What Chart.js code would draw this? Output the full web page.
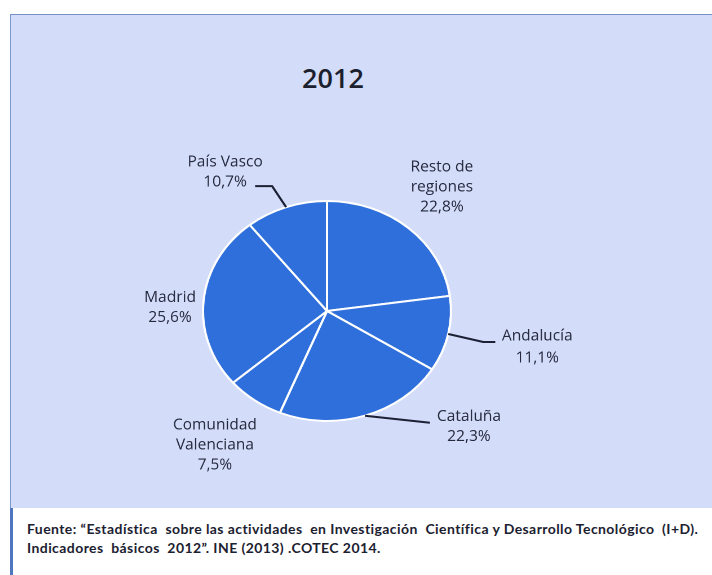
<!DOCTYPE html>
<html>
<head>
<meta charset="utf-8">
<script src="https://cdn.jsdelivr.net/npm/chart.js@4.4.1/dist/chart.umd.min.js"></script>
<style>
  html, body { margin:0; padding:0; background:#ffffff; width:712px; height:575px; overflow:hidden; }
  #box { position:absolute; left:10px; top:14px; width:702px; height:494px; background:#d3dcf8;
         border-top:1.5px solid #7390c8; border-left:1.5px solid #7b98cc; box-sizing:border-box; }
  #lowerBar { position:absolute; left:10px; top:508px; width:3px; height:67px; background:#4f76c0; }
  #title { position:absolute; left:233px; width:200px; top:61px; text-align:center;
           font-family:"Open Sans", sans-serif; font-weight:600; font-size:27px; color:#1c1f2e; line-height:34px; }
  #chartWrap { position:absolute; left:0; top:0; width:712px; height:510px; }
  #c { position:absolute; left:0; top:0; transform-origin:327px 311px; }
  .foot { position:absolute; left:27px; font-family:Lato, sans-serif; font-weight:700; font-size:14px; letter-spacing:0.42px; color:#1b2130; white-space:nowrap; }
</style>
</head>
<body>
<div id="box"></div>
<div id="lowerBar"></div>
<div id="title">2012</div>
<div id="chartWrap"><canvas id="c" width="712" height="510"></canvas></div>
<div class="foot" id="f1" style="top:520px;">Fuente: “Estadística&nbsp; sobre las actividades&nbsp; en Investigación&nbsp; Científica y Desarrollo Tecnológico&nbsp; (I+D).</div>
<div class="foot" id="f2" style="top:539px;">Indicadores&nbsp; básicos&nbsp; 2012”. INE (2013) .COTEC 2014.</div>
<script>
// ---- data ----
const categories = ['Resto de regiones', 'Andalucía', 'Cataluña', 'Comunidad Valenciana', 'Madrid', 'País Vasco'];
const labelLines = [['Resto de', 'regiones'], ['Andalucía'], ['Cataluña'], ['Comunidad', 'Valenciana'], ['Madrid'], ['País Vasco']];
const shares = [22.8, 11.1, 22.3, 7.5, 25.6, 10.7];

// ---- label placement (screen px offsets from the slice edge at mid-angle) ----
const labelOffsets = [
  {dx: 33.5, dy: -61, lh: 20},
  {dx: 89,   dy: 2,   lh: 22},
  {dx: 104,  dy: 1,   lh: 20},
  {dx: -39.5, dy: 25, lh: 20},
  {dx: -33.5, dy: -3, lh: 20},
  {dx: -61,  dy: -45, lh: 20}
];
const leaderPaths = [
  null,
  [[35, 8], [47, 8]],
  [[65, 7]],
  null,
  null,
  [[-14, -21], [-31, -21]]
];

const SX = 124 / 110; // horizontal stretch: the reference pie is an ellipse
document.getElementById('c').style.transform = 'scaleX(' + SX + ')';

const fmt = v => v.toFixed(1).replace('.', ',') + '%';

const labelPlugin = {
  id: 'sliceLabels',
  afterDatasetsDraw(chart) {
    const ctx = chart.ctx;
    const meta = chart.getDatasetMeta(0);
    meta.data.forEach((arc, i) => {
      const p = arc.getProps(['x', 'y', 'startAngle', 'endAngle', 'outerRadius'], true);
      const mid = (p.startAngle + p.endAngle) / 2;
      const ex = p.x + Math.cos(mid) * p.outerRadius;   // canvas coords
      const ey = p.y + Math.sin(mid) * p.outerRadius;
      const toCanvasX = dxScreen => ex + dxScreen / SX;
      const path = leaderPaths[i];
      if (path) {
        ctx.save();
        ctx.strokeStyle = '#1c2035';
        ctx.lineWidth = 2;
        ctx.lineJoin = 'round';
        ctx.beginPath();
        ctx.moveTo(ex, ey);
        path.forEach(pt => ctx.lineTo(toCanvasX(pt[0]), ey + pt[1]));
        ctx.stroke();
        ctx.restore();
      }
      const off = labelOffsets[i];
      const lines = labelLines[i].concat([fmt(shares[i])]);
      lines.forEach((t, k) => {
        ctx.save();
        ctx.translate(toCanvasX(off.dx), ey + off.dy + k * off.lh);
        ctx.scale(1 / SX, 1);
        ctx.font = '15.5px "Open Sans", sans-serif';
        ctx.fillStyle = '#262a3f';
        ctx.textAlign = 'center';
        ctx.textBaseline = 'middle';
        ctx.fillText(t, 0, 0);
        ctx.restore();
      });
    });
  }
};

new Chart(document.getElementById('c'), {
  type: 'pie',
  data: {
    labels: categories,
    datasets: [{
      data: shares,
      backgroundColor: '#2f6fdc',
      borderColor: '#ffffff',
      borderWidth: 2
    }]
  },
  options: {
    responsive: false,
    animation: false,
    devicePixelRatio: 2,
    radius: 110,
    layout: { padding: { left: 0, right: 58, top: 112, bottom: 0 } },
    plugins: { legend: { display: false }, title: { display: false }, tooltip: { enabled: false } }
  },
  plugins: [labelPlugin]
});
</script>
</body>
</html>
